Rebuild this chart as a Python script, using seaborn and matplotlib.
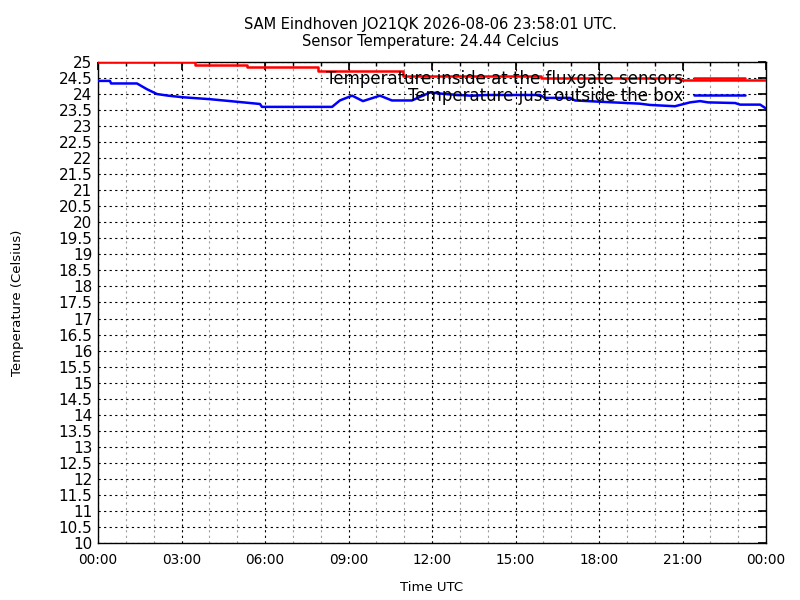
import matplotlib
matplotlib.use("Agg")
import matplotlib.pyplot as plt
from matplotlib.ticker import MultipleLocator, FuncFormatter
import seaborn as sns
import pandas as pd

# values (hours since 00:00 UTC, degrees Celsius)
inside_hours = [0.0, 3.5, 3.5, 5.35, 5.35, 7.9, 7.9, 10.95, 10.95, 15.9, 15.9, 20.9, 20.9, 24.0]
inside_temp = [25.0, 25.0, 24.92, 24.92, 24.83, 24.83, 24.72, 24.72, 24.57, 24.57, 24.5, 24.5, 24.45, 24.45]

outside_hours = [0.0, 0.43, 0.47, 1.40, 1.76, 2.12, 2.52, 3.05, 4.02, 4.99, 5.82, 5.89,
                 8.41, 8.69, 9.13, 9.52, 10.13, 10.56, 11.28, 11.93, 12.47, 13.37, 13.98,
                 15.88, 16.06, 16.96, 17.14, 18.04, 19.47, 19.83, 20.73, 21.27, 21.63,
                 21.92, 22.89, 23.07, 23.79, 24.0]
outside_temp = [24.41, 24.41, 24.33, 24.33, 24.15, 24.0, 23.95, 23.9, 23.84, 23.76, 23.69, 23.6,
                23.6, 23.8, 23.95, 23.78, 23.95, 23.8, 23.8, 24.05, 24.0, 23.95, 23.97,
                23.97, 23.88, 23.88, 23.8, 23.76, 23.7, 23.66, 23.62, 23.74, 23.78,
                23.74, 23.72, 23.67, 23.67, 23.55]

hour_ticks = list(range(0, 25, 3))
hour_labels = ["00:00", "03:00", "06:00", "09:00", "12:00", "15:00", "18:00", "21:00", "00:00"]

sns.set_theme(style="white")
plt.rcParams["font.family"] = ["DejaVu Sans"]
plt.rcParams["text.color"] = "black"
plt.rcParams["axes.labelcolor"] = "black"

fig = plt.figure(figsize=(8, 6), dpi=100)
ax = fig.add_axes([0.1225, 0.095, 0.835, 0.8017])

df_in = pd.DataFrame({"hour": inside_hours, "temp": inside_temp})
df_out = pd.DataFrame({"hour": outside_hours, "temp": outside_temp})

sns.lineplot(data=df_in, x="hour", y="temp", ax=ax, color="#ff0000", lw=1.8,
             estimator=None, sort=False, label="Temperature inside at the fluxgate sensors",
             zorder=3)
sns.lineplot(data=df_out, x="hour", y="temp", ax=ax, color="#0000ff", lw=1.8,
             estimator=None, sort=False, label="Temperature just outside the box",
             zorder=3)

ax.set_xlim(0, 24)
ax.set_ylim(10, 25)
ax.set_xticks(hour_ticks)
ax.set_xticklabels(hour_labels)
ax.xaxis.set_minor_locator(MultipleLocator(1))
ax.yaxis.set_major_locator(MultipleLocator(0.5))
ax.yaxis.set_major_formatter(FuncFormatter(lambda v, p: ("%g" % v)))

ax.tick_params(axis="both", which="both", direction="in", top=True, right=True, colors="black")
ax.tick_params(axis="x", which="major", length=6, labelsize=9.8, pad=7)
ax.tick_params(axis="x", which="minor", length=3)
ax.tick_params(axis="y", which="major", length=6, labelsize=11, pad=4)

for s in ax.spines.values():
    s.set_color("black")
    s.set_linewidth(1.0)

# gnuplot style dotted grid
ax.grid(which="major", axis="both", color="black", linestyle=(0, (2, 3)), lw=0.8)
ax.grid(which="minor", axis="x", color="#a0a0a0", linestyle=(0, (2, 3)), lw=0.8)
ax.set_axisbelow(True)

ax.set_xlabel("Time UTC", fontsize=9.5, labelpad=10)
ax.set_ylabel("Temperature (Celsius)", fontsize=9.5, labelpad=25)

fig.suptitle("SAM Eindhoven JO21QK 2026-08-06 23:58:01 UTC.\nSensor Temperature: 24.44 Celcius",
             x=0.5375, y=0.972, fontsize=10.5, linespacing=1.15, color="black")

leg = ax.legend(loc="upper right", frameon=False, markerfirst=False, fontsize=12,
                handlelength=3.1, handletextpad=0.65, labelspacing=-0.05,
                borderpad=0, borderaxespad=0, bbox_to_anchor=(0.969, 0.983),
                labelcolor="black")

fig.savefig("out.png", dpi=100)
